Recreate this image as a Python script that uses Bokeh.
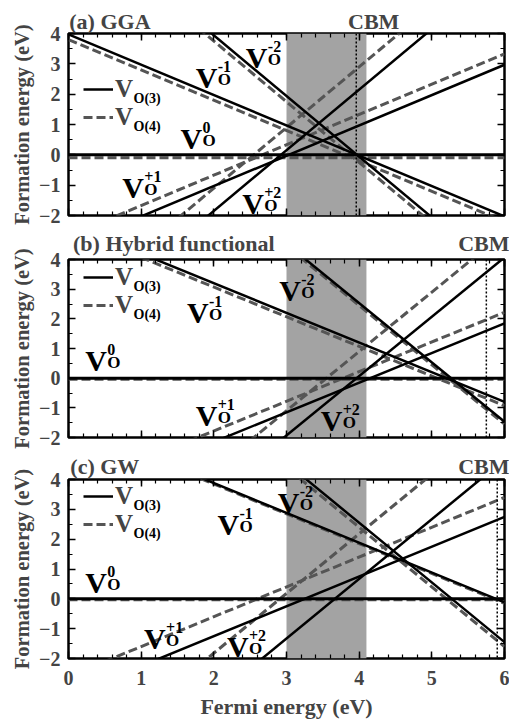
from bokeh.plotting import figure
from bokeh.models import (Range1d, BoxAnnotation, Span, Label, Legend, LegendItem,
                          LinearAxis, FixedTicker)
from bokeh.layouts import column
from bokeh.embed import file_html
from bokeh.resources import INLINE

FONT = "Liberation Serif"

# ---------------- data ----------------
charges = ["+2", "+1", "0", "-1", "-2"]
fermi_ends = [0.0, 6.0]          # Fermi energy (eV) at both plot edges

# formation energy (eV) of each charge state at Ef = 0 and Ef = 6
gga_o3_at0 = [-5.85, -3.03, 0.00, 3.97, 7.94]
gga_o3_at6 = [6.15, 2.97, 0.00, -2.03, -4.06]
gga_o4_at0 = [-5.10, -2.67, -0.10, 3.80, 7.75]
gga_o4_at6 = [6.90, 3.33, -0.10, -2.20, -4.25]

hyb_o3_at0 = [-7.93, -4.15, 0.00, 5.20, 10.53]
hyb_o3_at6 = [4.07, 1.85, 0.00, -0.80, -1.47]
hyb_o4_at0 = [-7.10, -3.78, -0.04, 5.07, 10.45]
hyb_o4_at6 = [4.90, 2.22, -0.04, -0.93, -1.55]

gw_o3_at0 = [-7.33, -3.25, 0.00, 5.88, 10.55]
gw_o3_at6 = [4.67, 2.75, 0.00, -0.12, -1.45]
gw_o4_at0 = [-5.82, -2.60, -0.03, 5.85, 10.40]
gw_o4_at6 = [6.18, 3.40, -0.03, -0.15, -1.60]

gap_band = [3.0, 4.1]
cbm_positions = [3.96, 5.75, 5.90]
panel_titles = ["(a) GGA", "(b) Hybrid functional", "(c) GW"]
legend_names = ["O(3)", "O(4)"]
x_ticks = [0, 1, 2, 3, 4, 5, 6]
y_ticks = [-2, -1, 0, 1, 2, 3, 4]
x_label = "Fermi energy (eV)"
y_label = "Formation energy (eV)"

# ---------------- placement (style) ----------------
label_pos = [
    {"-2": (2.44, 2.88), "-1": (1.75, 2.23), "0": (1.54, 0.21), "+1": (0.74, -1.40), "+2": (2.39, -1.94)},
    {"-2": (2.90, 2.62), "-1": (1.63, 1.88), "0": (0.23, 0.26), "+1": (1.75, -1.60), "+2": (3.47, -1.76)},
    {"-2": (2.88, 2.89), "-1": (2.05, 2.17), "0": (0.23, 0.22), "+1": (1.04, -1.67), "+2": (2.18, -1.94)},
]
title_center = [0.57, 1.45, 0.50]
cbm_center = [4.20, 5.74, 5.74]
header_standoff = [0, 4, 1]
legend_bottom = [84, 118, 120]
FRAME_W = 436

SOLID = "black"
DASH = "#555555"
BAND = "#a3a3a3"


def bold(size):
    return dict(text_font=FONT, text_font_style="bold", text_font_size=size, text_color="black")


def add_vlabel(p, x, y, sup):
    p.add_layout(Label(x=x, y=y, y_offset=10, text="V", text_baseline="alphabetic", **bold("30px")))
    p.add_layout(Label(x=x, y=y, x_offset=22, y_offset=21, text=sup,
                       text_baseline="alphabetic", **bold("16px")))
    p.add_layout(Label(x=x, y=y, x_offset=22, y_offset=8, text="O",
                       text_baseline="alphabetic", **bold("17px")))


def style_axis(ax, ticks, labels, standoff=8):
    ax.axis_line_color = None
    ax.major_tick_in = 7
    ax.major_tick_out = 0
    ax.minor_tick_in = 4
    ax.minor_tick_out = 0
    ax.major_tick_line_width = 1.5
    ax.minor_tick_line_width = 1.2
    ax.major_tick_line_color = "black"
    ax.minor_tick_line_color = "black"
    ax.major_label_text_font = FONT
    ax.major_label_text_font_style = "bold"
    ax.axis_label_text_font = FONT
    ax.axis_label_text_font_style = "bold"
    ax.axis_label_text_font_size = "20.5px"
    if labels:
        ax.major_label_text_font_size = "20px"
        ax.major_label_standoff = standoff
    else:
        ax.major_label_overrides = {t: "" for t in ticks}
        ax.major_label_text_font_size = "1px"
        ax.major_label_standoff = 0


def make_panel(i, o3_0, o3_6, o4_0, o4_6, frame_h, top, bottom, show_x):
    p = figure(frame_width=FRAME_W, frame_height=frame_h,
               x_range=Range1d(0, 6), y_range=Range1d(-2, 4),
               output_backend="svg", toolbar_location=None,
               min_border_left=68, min_border_right=5,
               min_border_top=top, min_border_bottom=bottom,
               x_axis_label=x_label if show_x else None,
               y_axis_label=y_label)
    p.xgrid.visible = False
    p.ygrid.visible = False
    p.outline_line_color = "black"
    p.outline_line_width = 2.5
    p.background_fill_color = "white"

    xt = FixedTicker(ticks=x_ticks, minor_ticks=[k * 0.2 for k in range(31)])
    yt = FixedTicker(ticks=y_ticks, minor_ticks=[-2 + k * 0.5 for k in range(13)])
    p.xaxis.ticker = xt
    p.yaxis.ticker = yt
    style_axis(p.xaxis[0], x_ticks, show_x, standoff=12)
    p.xaxis[0].axis_label_standoff = 6
    p.xaxis[0].axis_label_text_font_size = "22px"
    style_axis(p.yaxis[0], y_ticks, True, standoff=8)
    p.yaxis[0].axis_label_standoff = 3

    top_ax = LinearAxis(ticker=xt)
    style_axis(top_ax, x_ticks, False)
    p.add_layout(top_ax, "above")
    right_ax = LinearAxis(ticker=yt)
    style_axis(right_ax, y_ticks, False)
    p.add_layout(right_ax, "right")

    # header: panel title and CBM marker text
    hdr = LinearAxis(ticker=FixedTicker(ticks=[title_center[i], cbm_center[i]]),
                     major_label_overrides={title_center[i]: panel_titles[i],
                                            cbm_center[i]: "CBM"})
    hdr.axis_line_color = None
    hdr.major_tick_line_color = None
    hdr.minor_tick_line_color = None
    hdr.major_tick_out = 0
    hdr.major_tick_in = 0
    hdr.major_label_standoff = header_standoff[i]
    hdr.major_label_text_font = FONT
    hdr.major_label_text_font_style = "bold"
    hdr.major_label_text_font_size = "22px"
    p.add_layout(hdr, "above")

    p.add_layout(BoxAnnotation(left=gap_band[0], right=gap_band[1], fill_color=BAND,
                               fill_alpha=1.0, line_color=None, level="underlay"))
    p.add_layout(Span(location=cbm_positions[i], dimension="height", line_color="black",
                      line_width=1.5, line_dash="2 2"))

    dash_r = []
    for k in range(len(charges)):
        dash_r.append(p.line(fermi_ends, [o4_0[k], o4_6[k]], line_color=DASH,
                             line_width=3, line_dash="9 4"))
    solid_r = []
    for k in range(len(charges)):
        solid_r.append(p.line(fermi_ends, [o3_0[k], o3_6[k]], line_color=SOLID,
                              line_width=2.5 if charges[k] != "0" else 3))

    # legend
    lb = legend_bottom[i]
    leg = Legend(items=[LegendItem(label="V", renderers=[solid_r[0]]),
                        LegendItem(label="V", renderers=[dash_r[0]])],
                 location=(15, lb), padding=0, margin=0, spacing=0,
                 glyph_width=30, glyph_height=28, label_height=28, label_width=10,
                 label_standoff=2, border_line_color=None, background_fill_alpha=0,
                 label_text_font=FONT, label_text_font_style="bold",
                 label_text_font_size="25px")
    p.add_layout(leg, "center")
    for r, name in enumerate(legend_names):
        cy = lb + 42 - 28 * r
        p.add_layout(Label(x=65, y=cy - 9, x_units="screen", y_units="screen", text=name,
                           text_baseline="alphabetic", **bold("14px")))

    for q in charges:
        lx, ly = label_pos[i][q]
        add_vlabel(p, lx, ly, q)
    return p


pa = make_panel(0, gga_o3_at0, gga_o3_at6, gga_o4_at0, gga_o4_at6, 182, 33, 12, False)
pb = make_panel(1, hyb_o3_at0, hyb_o3_at6, hyb_o4_at0, hyb_o4_at6, 178, 30, 12, False)
pc = make_panel(2, gw_o3_at0, gw_o3_at6, gw_o4_at0, gw_o4_at6, 179, 30, 64, True)

layout = column(pa, pb, pc, spacing=0)
open("out.html", "w").write(file_html(layout, INLINE))
